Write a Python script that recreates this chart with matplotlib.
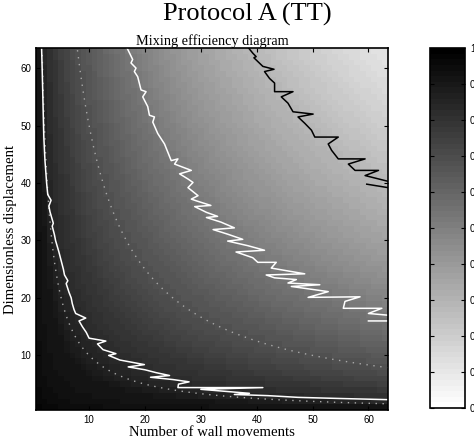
import numpy as np
import matplotlib
matplotlib.use("Agg")
import matplotlib.pyplot as plt

# ---- data ----
n_moves = np.arange(1, 64)          # x: number of wall movements
n_disp = np.arange(1, 64)           # y: dimensionless displacement

# mixing efficiency as a function of the product (moves x displacement)
product_levels = [1, 63, 126, 250, 630, 1000, 2450, 3969]
efficiency_levels = [0.98, 0.91, 0.84, 0.78, 0.65, 0.55, 0.29, 0.11]

# dotted reference hyperbolas (moves x displacement = const)
ref_products = [100, 500]

# jagged measured contour lines (white, white, black)
c1_x = [1.5, 1.6, 1.7, 1.8, 1.9, 2.1, 2.4, 2.6, 3.2, 2.8, 3.0, 3.6, 3.4, 3.8, 4.0, 4.3, 4.6,
        5.0, 5.4, 5.6, 6.2, 5.9, 6.4, 6.8, 7.0, 7.3, 7.6, 9.4, 8.2, 8.8, 9.5, 10.0, 13.0,
        11.5, 12.5, 14.8, 13.5, 15.5, 19.9, 17.0, 20.0, 22.0, 24.4, 21.0, 25.0, 27.9, 26.0,
        25.9, 41.1, 30.0, 38.7, 36.0, 42.0, 47.4, 55.0, 63.5]
c1_y = [63.5, 60, 56, 52, 48, 44, 40, 38, 37, 36, 35, 33, 32.5, 31, 30, 29, 28,
        26.5, 25, 24, 23, 22.5, 21, 20, 19, 18, 17.3, 16.5, 16, 15, 14, 13, 12.5,
        12, 11, 10.3, 10, 9.2, 8.4, 8, 7.5, 7, 6.5, 6.2, 5.8, 5.4, 5.0,
        4.4, 4.4, 4.1, 3.4, 3.2, 3.0, 2.7, 2.5, 2.3]

c2_x = [16.8, 17.8, 17.5, 18.4, 18.1, 18.7, 19.3, 20.2, 19.6, 20.5, 20.8, 21.7, 21.4, 22.3,
        22.9, 23.5, 24.7, 25.9, 25.3, 28.3, 26.2, 27.7, 28.6, 27.7, 29.5, 28.3, 29.2, 31.8,
        28.9, 31.0, 33.0, 31.0, 33.6, 36.0, 32.2, 34.8, 37.5, 34.8, 38.4, 41.4, 36.3, 39.3,
        40.2, 43.5, 42.6, 44.4, 48.6, 41.7, 43.2, 47.1, 45.6, 51.3, 46.2, 52.8, 49.2, 58.5,
        55.8, 55.5, 62.4, 60.0, 63.5, np.nan, 60.0, 63.5]
c2_y = [63.5, 61.5, 60.9, 60.0, 59.4, 58.5, 56.2, 55.9, 55.0, 53.3, 51.8, 51.5, 50.6, 48.6,
        47.7, 46.8, 43.9, 44.2, 43.3, 42.2, 41.6, 40.7, 40.1, 39.2, 37.8, 37.2, 36.9, 36.1,
        35.9, 34.9, 34.2, 34.0, 33.2, 32.2, 31.9, 31.1, 30.2, 29.9, 29.1, 28.3, 28.0, 27.0,
        26.2, 26.2, 25.2, 24.9, 24.2, 24.0, 23.5, 23.2, 22.6, 22.3, 22.0, 21.1, 20.1, 20.2,
        19.4, 18.2, 18.2, 17.3, 17.0, np.nan, 16.0, 16.0]

c3_x = [38.3, 39.3, 39.9, 39.5, 41.1, 43.1, 41.4, 42.3, 43.2, 43.2, 46.5, 44.4, 45.6, 46.5,
        50.1, 47.4, 48.6, 49.8, 50.4, 54.6, 52.8, 53.4, 54.6, 59.4, 56.4, 57.6, 61.8, 59.4,
        63.5, np.nan, 59.7, 63.5]
c3_y = [63.8, 62.6, 62.0, 61.8, 60.3, 59.8, 59.4, 58.2, 57.4, 55.9, 55.9, 55.0, 53.9, 52.4,
        52.0, 51.5, 50.4, 49.2, 48.0, 48.0, 46.8, 45.7, 44.2, 44.2, 43.3, 42.2, 42.2, 41.3,
        40.3, np.nan, 39.8, 39.2]

x_ticks = [10, 20, 30, 40, 50, 60]
y_ticks = [10, 20, 30, 40, 50, 60]
cbar_ticks = [0, 0.1, 0.2, 0.3, 0.4, 0.5, 0.6, 0.7, 0.8, 0.9, 1.0]

# ---- figure ----
W, H = 474, 442
fig = plt.figure(figsize=(W / 100, H / 100), dpi=100)
serif = ['Liberation Serif', 'DejaVu Serif']
sans = ['Liberation Sans', 'DejaVu Sans']

ax = fig.add_axes([36 / W, 1 - 410 / H, (388 - 36) / W, (410 - 48) / H])
X, Y = np.meshgrid(n_moves, n_disp)
grid = np.interp(np.log(X * Y), np.log(product_levels), efficiency_levels)
cmap = plt.get_cmap('gray_r', 64)
im = ax.imshow(grid, origin='lower', cmap=cmap, vmin=0, vmax=1, interpolation='nearest',
               extent=[0.5, 63.5, 0.5, 63.5], aspect='auto')

xs = np.linspace(0.5, 63.5, 400)
for p in ref_products:
    ys = p / xs
    m = (ys >= 0.5) & (ys <= 63.5)
    ax.plot(xs[m], ys[m], linestyle=(0, (1, 4)), color='#a8a8a8', lw=1.0)

ax.plot(c1_x, c1_y, color='white', lw=1.1)
ax.plot(c2_x, c2_y, color='white', lw=1.1)
ax.plot(c3_x, c3_y, color='black', lw=1.1)

ax.set_xlim(0.5, 63.5)
ax.set_ylim(0.5, 63.5)
ax.set_xticks(x_ticks)
ax.set_yticks(y_ticks)
ax.tick_params(direction='in', length=3, width=0.8, top=True, right=True, labelsize=7)
for lab in ax.get_xticklabels() + ax.get_yticklabels():
    lab.set_family(sans)
for s in ax.spines.values():
    s.set_linewidth(1.2)
ax.set_xlabel('Number of wall movements', family=serif, fontsize=10.6, labelpad=1)
ax.set_ylabel('Dimensionless displacement', family=serif, fontsize=10.6, labelpad=2)
ax.set_title('Mixing efficiency diagram', family=serif, fontsize=10.3, pad=2)

fig.text(247 / W, 1 - 14 / H, 'Protocol A (TT)', family=serif, fontsize=19,
         ha='center', va='center')

cax = fig.add_axes([430 / W, 1 - 408 / H, 35 / W, (408 - 48) / H])
cb = fig.colorbar(im, cax=cax, ticks=cbar_ticks)
cb.outline.set_linewidth(1.2)
cax.tick_params(direction='in', length=3, width=0.8, left=True, right=True, labelsize=7)
for lab in cax.get_yticklabels():
    lab.set_family(sans)
cax.set_yticklabels([f'{t:g}' for t in cbar_ticks])

fig.savefig('out.png', dpi=100)
